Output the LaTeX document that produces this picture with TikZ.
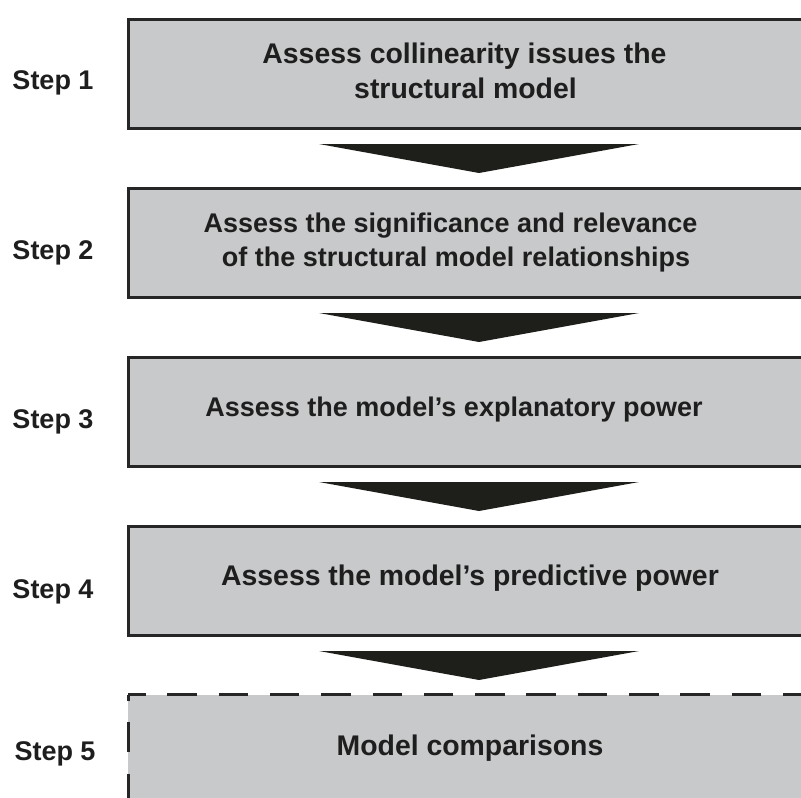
\documentclass[tikz,border=0pt]{standalone}
\usepackage{fontspec}
\setmainfont{Liberation Sans}
\definecolor{boxfill}{HTML}{C8C9CB}
\definecolor{boxline}{HTML}{262626}
\definecolor{textcol}{HTML}{1E1E1E}
\definecolor{arrowcol}{HTML}{1E1E1A}
\tikzset{
  box/.style={draw=boxline, line width=3pt, fill=boxfill, minimum width=678pt,
    minimum height=109pt, inner sep=0pt, outer sep=0pt, anchor=north west},
  dashbox/.style={fill=boxfill, draw=none, minimum width=678pt,
    minimum height=120pt, inner sep=0pt, outer sep=0pt, anchor=north west},
  dashedge/.style={draw=boxline, line width=3pt, dash pattern=on 29.5pt off 21.8pt},
  txt/.style={font=\bfseries\fontsize{27}{35}\selectfont, text=textcol,
    inner sep=0pt, outer sep=0pt, anchor=base},
  bigtxt/.style={txt, font=\bfseries\fontsize{28.4}{35}\selectfont},
  steplbl/.style={txt, anchor=base west},
  chevron/.style={fill=arrowcol},
}
\begin{document}
\begin{tikzpicture}[x=1pt, y=-1pt]
\useasboundingbox (0,0) rectangle (801,798);
\clip (0,0) rectangle (801,798);
% boxes
\node[box] (b1) at (128,19.5) {};
\node[box] (b2) at (128,188.5) {};
\node[box] (b3) at (128,357.5) {};
\node[box] (b4) at (128,526.5) {};
\node[dashbox] (b5) at (128,694.5) {};
\draw[dashedge, dash phase=12pt] (b5.north west) -- (b5.north east);
\draw[dashedge, dash phase=23.5pt] (b5.north west) -- (b5.south west);
% chevrons
\foreach \i in {0,1,2,3} {
  \fill[chevron] (319,{144+169*\i}) -- (639,{144+169*\i}) -- (479,{173+169*\i}) -- cycle;
}
% texts in boxes
\node[bigtxt] (t1a) at (464.5,63) {Assess collinearity issues the};
\node[bigtxt] (t1b) at (465.5,98) {structural model};
\node[txt] (t2a) at (450.5,232) {Assess the significance and relevance};
\node[txt] (t2b) at (456,266) {of the structural model relationships};
\node[txt] (t3) at (454,416) {Assess the model’s explanatory power};
\node[bigtxt] (t4) at (470,585) {Assess the model’s predictive power};
\node[bigtxt] (t5) at (470,755) {Model comparisons};
% step labels
\node[steplbl] (s1) at (12.5,89) {Step 1};
\node[steplbl] (s2) at (12.5,259) {Step 2};
\node[steplbl] (s3) at (12.5,428) {Step 3};
\node[steplbl] (s4) at (12.5,598) {Step 4};
\node[steplbl] (s5) at (14.5,760) {Step 5};
\end{tikzpicture}
\end{document}
